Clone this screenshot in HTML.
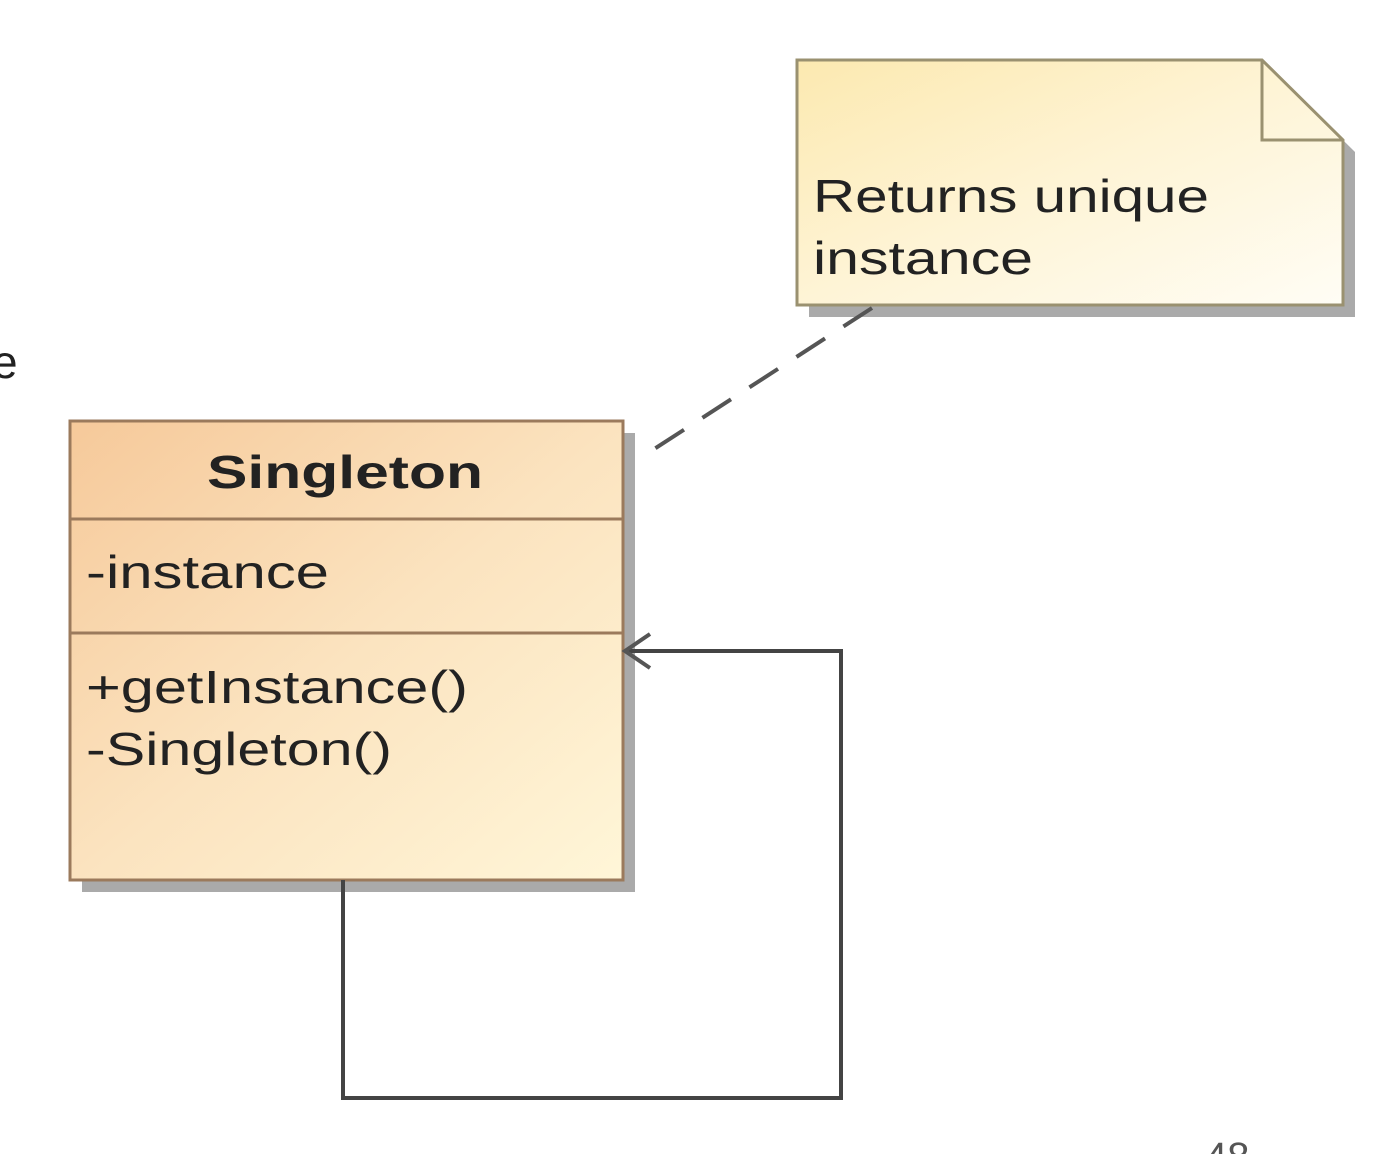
<!DOCTYPE html>
<html><head><style>html,body{margin:0;padding:0;background:#fff}svg{display:block}</style></head>
<body>
<svg width="1392" height="1154" viewBox="0 0 1392 1154" xmlns="http://www.w3.org/2000/svg" font-family="Liberation Sans, sans-serif">
<defs>
<linearGradient id="cg" x1="0" y1="0" x2="1" y2="1">
<stop offset="0" stop-color="#f6c99a"/><stop offset="0.5" stop-color="#fbe3bf"/><stop offset="1" stop-color="#fff6d8"/></linearGradient>
<linearGradient id="ng" x1="0" y1="0" x2="1" y2="1">
<stop offset="0" stop-color="#fce9b0"/><stop offset="0.5" stop-color="#fef4d6"/><stop offset="1" stop-color="#fffdf5"/></linearGradient>
</defs>
<text x="-8" y="378" font-size="46" fill="#222">e</text>
<!-- note shadow -->
<path d="M809 72 H1274 L1355 152 V317 H809 Z" fill="#aaa"/>
<path d="M797 60 H1262 L1343 140 V305 H797 Z" fill="url(#ng)" stroke="#9a9170" stroke-width="3"/>
<path d="M1262 60 V140 H1343" fill="none" stroke="#9a9170" stroke-width="3"/>
<text x="813" y="212" font-size="46" fill="#222" textLength="396" lengthAdjust="spacingAndGlyphs">Returns unique</text>
<text x="813" y="274" font-size="46" fill="#222" textLength="220" lengthAdjust="spacingAndGlyphs">instance</text>
<line x1="872" y1="308" x2="645" y2="455" stroke="#555" stroke-width="4" stroke-dasharray="34,22"/>
<!-- class shadow -->
<rect x="82" y="433" width="553" height="459" fill="#aaa"/>
<rect x="70" y="421" width="553" height="459" fill="url(#cg)" stroke="#9b7a5c" stroke-width="3"/>
<line x1="70" y1="519" x2="623" y2="519" stroke="#9b7a5c" stroke-width="3"/>
<line x1="70" y1="633" x2="623" y2="633" stroke="#9b7a5c" stroke-width="3"/>
<text x="345" y="488" font-size="46" font-weight="bold" fill="#222" text-anchor="middle" textLength="276" lengthAdjust="spacingAndGlyphs">Singleton</text>
<text x="86" y="588" font-size="46" fill="#222" textLength="243" lengthAdjust="spacingAndGlyphs">-instance</text>
<text x="86" y="703" font-size="46" fill="#222" textLength="382" lengthAdjust="spacingAndGlyphs">+getInstance()</text>
<text x="86" y="765" font-size="46" fill="#222" textLength="306" lengthAdjust="spacingAndGlyphs">-Singleton()</text>
<polyline points="343,880 343,1098 841,1098 841,651 625,651" fill="none" stroke="#444" stroke-width="4"/>
<polyline points="650,634 625,651 650,668" fill="none" stroke="#555" stroke-width="4"/>
<text x="1205" y="1170" font-size="40" fill="#555">48</text>
</svg>
</body></html>
